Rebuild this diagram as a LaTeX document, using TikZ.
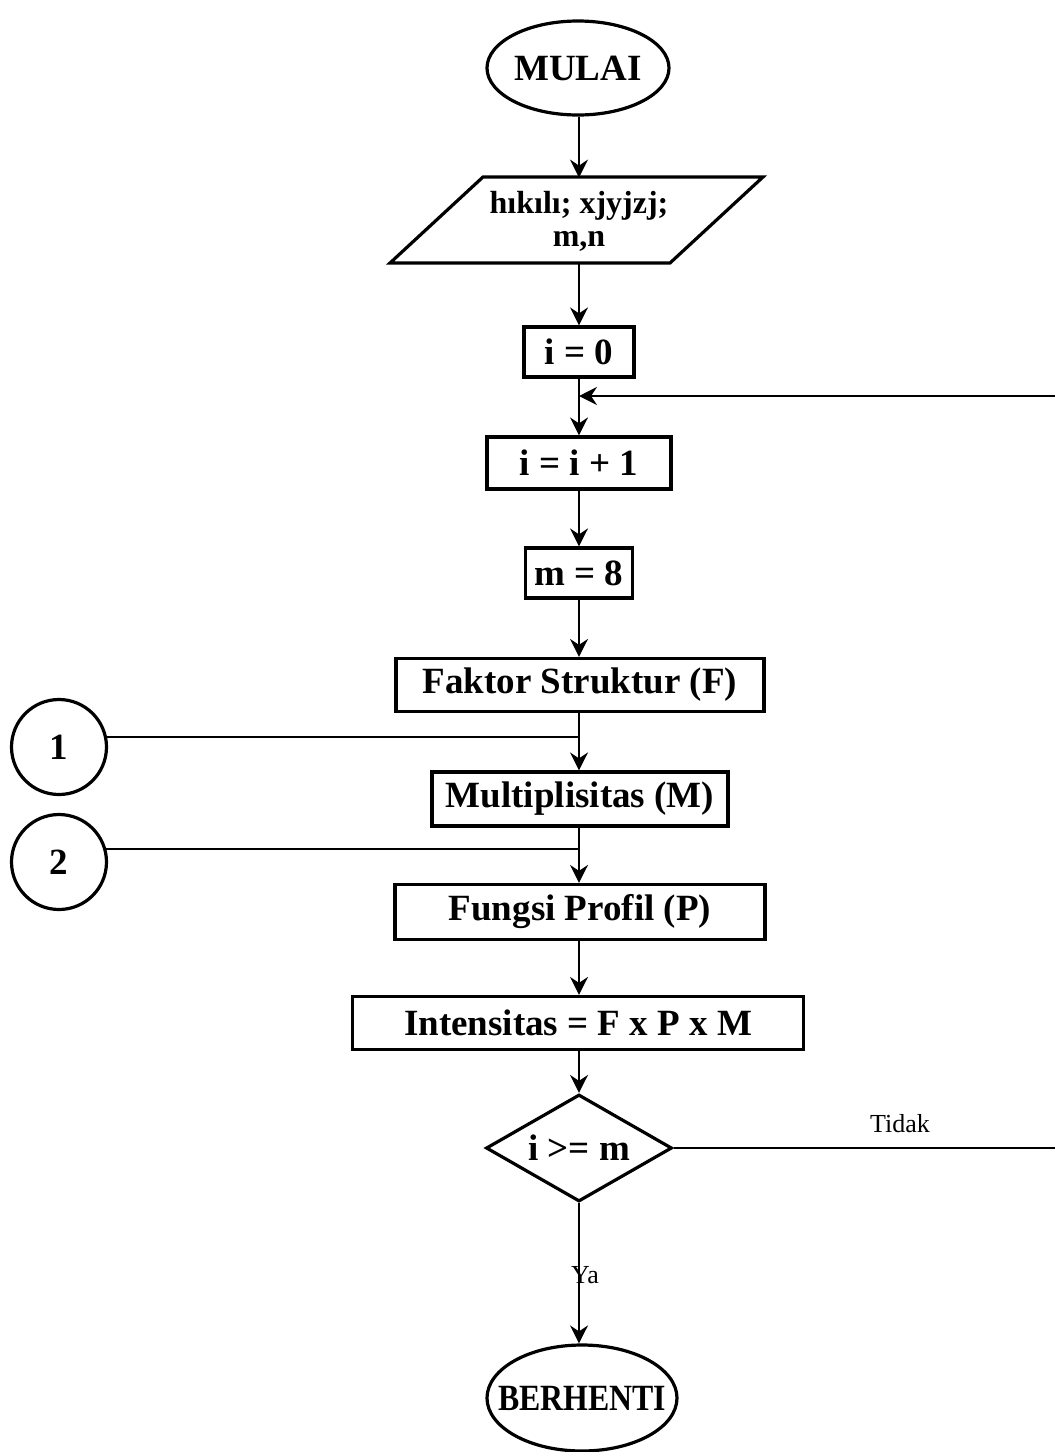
\documentclass[tikz,border=0pt]{standalone}
\usepackage{fontspec}
\setmainfont{Liberation Serif}
\usetikzlibrary{shapes.geometric,arrows.meta}
\begin{document}
\begin{tikzpicture}[x=0.5pt,y=-0.5pt,
  txt/.style={font=\fontsize{18.5}{20}\selectfont\bfseries},
  box/.style={draw,line width=1.6pt,inner sep=0pt,txt},
  term/.style={box,ellipse},
  conn/.style={line width=1pt},
  arr/.style={conn,-{Stealth[length=9pt,width=9pt,inset=3pt]}},
  lbl/.style={font=\fontsize{13}{15}\selectfont,inner sep=0pt}]
\useasboundingbox (0,0) rectangle (1055,1452);
\fill[white] (0,0) rectangle (1055,1452);

% nodes
\node[term, minimum width=91pt, minimum height=47pt] (start) at (578,68) {\makebox[0pt]{MULAI}};
\draw[line width=1.6pt] (390,263) -- (670,263) -- (763,177) -- (483,177) -- cycle;
\node[inner sep=0pt, minimum width=95pt, minimum height=43pt, align=center,
      font=\fontsize{16}{16.5}\selectfont\bfseries] (inp) at (579,221) {hıkılı; xjyjzj;\\m,n};
\node[box, minimum width=55pt, minimum height=25pt] (i0) at (579,352) {i = 0};
\node[box, minimum width=92pt, minimum height=26pt] (i1) at (579,463) {i = i + 1};
\node[box, minimum width=53.5pt, minimum height=25pt] (m8) at (579,573) {m = 8};
\node[box, minimum width=184pt, minimum height=26.5pt] (F) at (580,685) {Faktor Struktur (F)};
\node[box, minimum width=148pt, minimum height=27pt] (M) at (580,799) {Multiplisitas (M)};
\node[box, minimum width=185pt, minimum height=27.5pt] (P) at (580,912) {Fungsi Profil (P)};
\node[box, minimum width=225.5pt, minimum height=26.5pt] (I) at (578,1023) {Intensitas = F x P x M};
\node[box, diamond, aspect=1.74, minimum width=93pt, minimum height=53.5pt] (dec) at (579,1148) {i >= m};
\node[term, minimum width=95pt, minimum height=53pt] (stop) at (582,1398) {\makebox[0pt]{\scalebox{0.86}[1]{BERHENTI}}};
\node[box, circle, minimum size=47.5pt] (c1) at (59,747) {1};
\node[box, circle, minimum size=47.5pt] (c2) at (59,862) {2};

% helper coordinates
\coordinate (j0) at (579,396);
\coordinate (j1) at (579,737);
\coordinate (j2) at (579,850);
\coordinate (rt) at (1060,0);

% connectors
\draw[arr] (start.south -| inp.north) -- (inp.north);
\draw[arr] (inp.south) -- (i0.north);
\draw[arr] (i0.south) -- (i1.north);
\draw[arr] (i1.south) -- (m8.north);
\draw[arr] (m8.south) -- (m8.south |- F.north);
\draw[arr] (F.south -| j1) -- (j1 |- M.north);
\draw[arr] (M.south -| j2) -- (j2 |- P.north);
\draw[arr] (P.south -| j2) -- (j2 |- I.north);
\draw[arr] (I.south -| dec.north) -- (dec.north);
\draw[arr] (dec.south) -- node[lbl, pos=0.51, xshift=3pt] {Ya} (dec.south |- stop.north);
\draw[arr] (dec.east) -- (dec.east -| rt) -- (rt |- j0) -- (j0);
\node[lbl] (tidak) at (900,1124) {Tidak};
\draw[conn] (c1.12) -- (c1.12 -| j1);
\draw[conn] (c2.15) -- (c2.15 -| j2);
\end{tikzpicture}
\end{document}
